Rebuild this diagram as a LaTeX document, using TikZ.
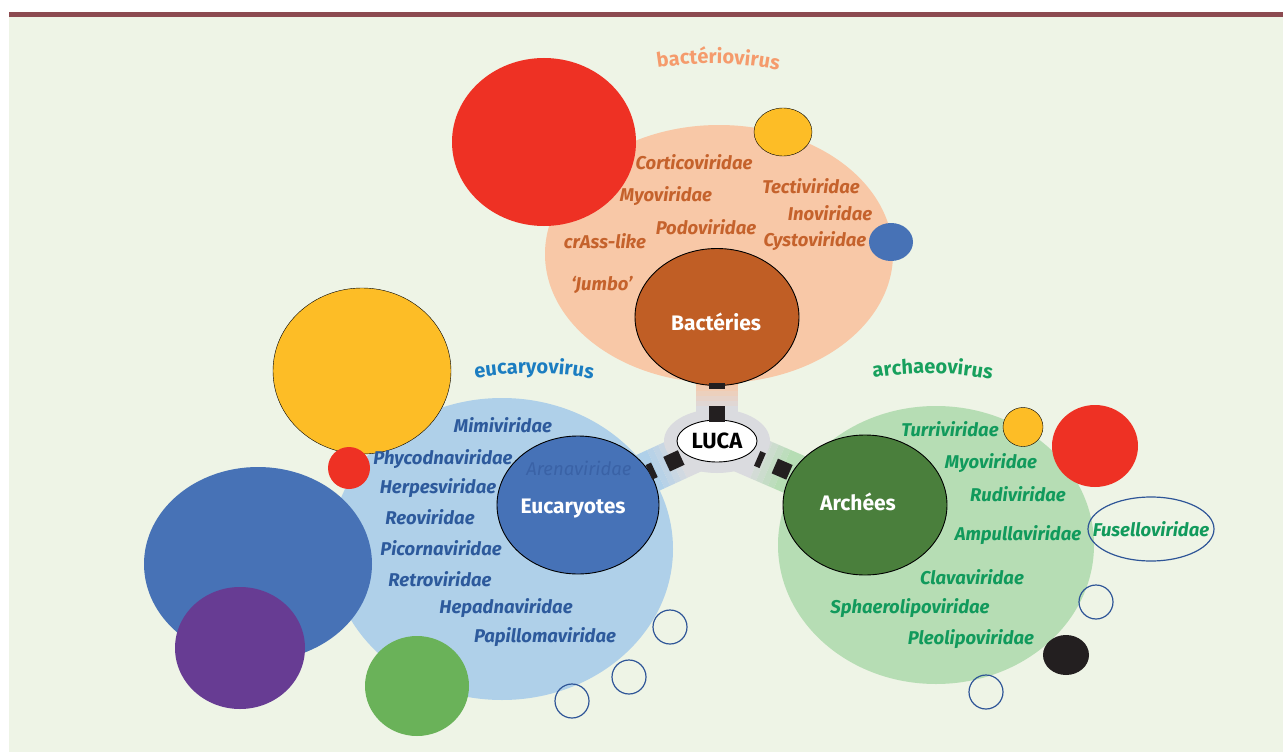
\documentclass[tikz,border=0pt]{standalone}
\usepackage{fontspec}
\setmainfont{Fira Sans}
\usetikzlibrary{shapes.geometric,calc,decorations.text}

\definecolor{bgGreen}{HTML}{EEF4E6}
\definecolor{topBar}{HTML}{8C4A50}
\definecolor{peach}{HTML}{F8C8A7}
\definecolor{skyBlue}{HTML}{AFD0E9}
\definecolor{mint}{HTML}{B6DDB4}
\definecolor{haloGray}{HTML}{DADBDF}
\definecolor{bactFill}{HTML}{C05E25}
\definecolor{eukFill}{HTML}{4672B7}
\definecolor{archFill}{HTML}{4A7F3C}
\definecolor{vRed}{HTML}{EE3124}
\definecolor{vYellow}{HTML}{FDBD26}
\definecolor{vBlue}{HTML}{4772B6}
\definecolor{vPurple}{HTML}{673C93}
\definecolor{vGreen}{HTML}{6AB259}
\definecolor{vBlack}{HTML}{231F20}
\definecolor{ringBlue}{HTML}{2E5597}
\definecolor{bactTitle}{HTML}{F59B6C}
\definecolor{eukTitle}{HTML}{1B7DC1}
\definecolor{archTitle}{HTML}{17A05D}
\definecolor{bactText}{HTML}{C5622C}
\definecolor{eukText}{HTML}{2D5A9C}
\definecolor{archText}{HTML}{119A5C}
\definecolor{arenaText}{HTML}{3A62A6}

\newcommand{\famfont}{\fontsize{18.5}{20}\selectfont\bfseries\itshape}
\newcommand{\domfont}{\fontsize{21}{23}\selectfont\bfseries}
\newcommand{\titlefont}{\fontsize{20}{22}\selectfont\bfseries}

\pgfdeclarelayer{back}
\pgfdeclarelayer{mid}
\pgfsetlayers{back,mid,main}

\begin{document}
\begin{tikzpicture}[x=1pt,y=-1pt,
  blob/.style={ellipse,inner sep=0pt},
  domcircle/.style={blob,draw=black,line width=0.9pt},
  ring/.style={blob,draw=ringBlue,line width=1.2pt,minimum size=34pt},
  fam/.style={inner sep=0pt,font=\famfont},
  famB/.style={fam,text=bactText},
  famE/.style={fam,text=eukText},
  famA/.style={fam,text=archText},
  domname/.style={inner sep=0pt,text=white,font=\domfont},
  band/.style={line width=42pt},
  plug/.style={fill=vBlack,inner sep=0pt,minimum size=16pt},
  plugbar/.style={plug,minimum width=6pt,minimum height=16pt}]
\useasboundingbox (0,0) rectangle (1283,752);

\begin{pgfonlayer}{back}
\fill[white] (0,0) rectangle (1283,752);
\fill[bgGreen] (9,17) rectangle (1283,752);
\fill[topBar] (9,12) rectangle (1283,17.5);
% light zones
\node[blob,fill=peach,minimum width=348pt,minimum height=258pt] (bactZone) at (719,254) {};
\node[blob,fill=skyBlue,minimum width=342pt,minimum height=302pt] (eukZone) at (502,549) {};
\node[blob,fill=mint,minimum width=316pt,minimum height=278pt] (archZone) at (936,545) {};
\end{pgfonlayer}

% LUCA and the three domains
\node[blob,fill=haloGray,minimum width=106pt,minimum height=64pt] (halo) at (717,441) {};
\node[domcircle,fill=white,minimum width=80pt,minimum height=42pt,font=\fontsize{22}{24}\selectfont\bfseries] (luca) at (717,441) {LUCA};
\node[domcircle,fill=bactFill,minimum width=164pt,minimum height=137pt] (bact) at (717,317) {};
\node[domcircle,fill=eukFill,minimum width=162pt,minimum height=138pt] (euk) at (578,505) {};
\node[domcircle,fill=archFill,minimum width=164pt,minimum height=140pt] (arch) at (865,505) {};

\begin{pgfonlayer}{mid}
\foreach \dom/\col in {bact/peach,euk/skyBlue,arch/mint}
  \foreach \a/\b/\m in {0/0.28/0,0.28/0.32/20,0.32/0.36/40,0.36/0.40/60,0.40/0.44/80,0.44/1/100}
    \draw[band,draw=\col!\m!haloGray] ($(luca.center)!\a!(\dom.center)$) -- ($(luca.center)!\b!(\dom.center)$);
\end{pgfonlayer}

\path (luca.center) -- (bact.center) node[plug,sloped,pos=0.22] (plugB1) {} node[plugbar,sloped,pos=0.44] (plugB2) {};
\path (luca.center) -- (euk.center) node[plug,sloped,pos=0.31] (plugE1) {} node[plugbar,sloped,pos=0.47] (plugE2) {};
\path (luca.center) -- (arch.center) node[plugbar,sloped,pos=0.29] (plugA1) {} node[plug,sloped,pos=0.44] (plugA2) {};

% bacteriovirus
\node[blob,fill=vRed,minimum width=184pt,minimum height=168pt] (bRed) at (544,142) {};
\node[blob,fill=vYellow,draw=black,minimum width=58pt,minimum height=48pt] (bYellow) at (783,132) {};
\node[blob,fill=vBlue,minimum width=44pt,minimum height=38pt] (bBlue) at (891,242) {};

% eucaryovirus
\node[blob,fill=vYellow,draw=black,minimum width=178pt,minimum height=166pt] (eYellow) at (362,371) {};
\node[blob,fill=vRed,minimum size=42pt] (eRed) at (349,468) {};
\node[blob,fill=vBlue,minimum width=228pt,minimum height=194pt] (eBlue) at (258,564) {};
\node[blob,fill=vPurple,minimum width=130pt,minimum height=122pt] (ePurple) at (240,648) {};
\node[blob,fill=vGreen,minimum width=104pt,minimum height=100pt] (eGreen) at (417,686) {};
\node[ring] (eRing1) at (670,627) {};
\node[ring] (eRing2) at (629,677) {};
\node[ring] (eRing3) at (572,701) {};

% archaeovirus
\node[blob,fill=vYellow,draw=black,minimum width=40pt,minimum height=39pt] (aYellow) at (1023,427) {};
\node[blob,fill=vRed,minimum width=86pt,minimum height=82pt] (aRed) at (1095,446) {};
\node[ring,minimum width=126pt,minimum height=64pt] (aFusello) at (1151,529) {};
\node[ring] (aRing1) at (1096,602) {};
\node[blob,fill=vBlack,minimum width=46pt,minimum height=40pt] (aBlack) at (1066,655) {};
\node[ring] (aRing2) at (986,692) {};

% titles
\path[decorate,decoration={text along path,text align=center,text={|\titlefont\color{bactTitle}|bactériovirus}}]
  (646,70) .. controls (690,61) and (745,61) .. (790,73);
\path[decorate,decoration={text along path,text align=center,text={|\titlefont\color{eukTitle}|eucaryovirus}}]
  (466,380) .. controls (505,371) and (562,371) .. (602,381);
\path[decorate,decoration={text along path,text align=center,text={|\titlefont\color{archTitle}|archaeovirus}}]
  (864,380) .. controls (903,371) and (960,371) .. (1001,382);

% domain names
\node[domname] (bactName) at (716,322) {Bactéries};
\node[domname] (eukName) at (573,509) {Eucaryotes};
\node[domname] (archName) at (858,502) {Archées};

% families
\node[famB] (corti) at (694,162) {Corticoviridae};
\node[famB] (myoB) at (666,196) {Myoviridae};
\node[famB] (tecti) at (811,186) {Tectiviridae};
\node[famB] (ino) at (830,213) {Inoviridae};
\node[famB] (podo) at (706,227) {Podoviridae};
\node[famB] (crass) at (605,241) {crAss-like};
\node[famB] (cysto) at (815,241) {Cystoviridae};
\node[famB] (jumbo) at (602,285) {‘Jumbo’};

\node[famE] (mimi) at (503,425) {Mimiviridae};
\node[famE] (phyco) at (443,459) {Phycodnaviridae};
\node[famE] (herpes) at (438,488) {Herpesviridae};
\node[famE] (reo) at (430,517) {Reoviridae};
\node[famE] (picorna) at (441,548) {Picornaviridae};
\node[famE] (retro) at (440,579) {Retroviridae};
\node[famE] (hepadna) at (506,608) {Hepadnaviridae};
\node[famE] (papillo) at (545,637) {Papillomaviridae};
\node[inner sep=0pt,text=arenaText,font=\fontsize{18.5}{20}\selectfont\itshape] (arena) at (579,468) {Arenaviridae};

\node[famA] (turri) at (950,429) {Turriviridae};
\node[famA] (myoA) at (991,463) {Myoviridae};
\node[famA] (rudi) at (1018,494) {Rudiviridae};
\node[famA] (ampulla) at (1018,535) {Ampullaviridae};
\node[famA] (fusello) at (aFusello) {Fuselloviridae};
\node[famA] (clava) at (972,577) {Clavaviridae};
\node[famA] (sphaero) at (910,608) {Sphaerolipoviridae};
\node[famA] (pleo) at (971,639) {Pleolipoviridae};
\end{tikzpicture}
\end{document}
